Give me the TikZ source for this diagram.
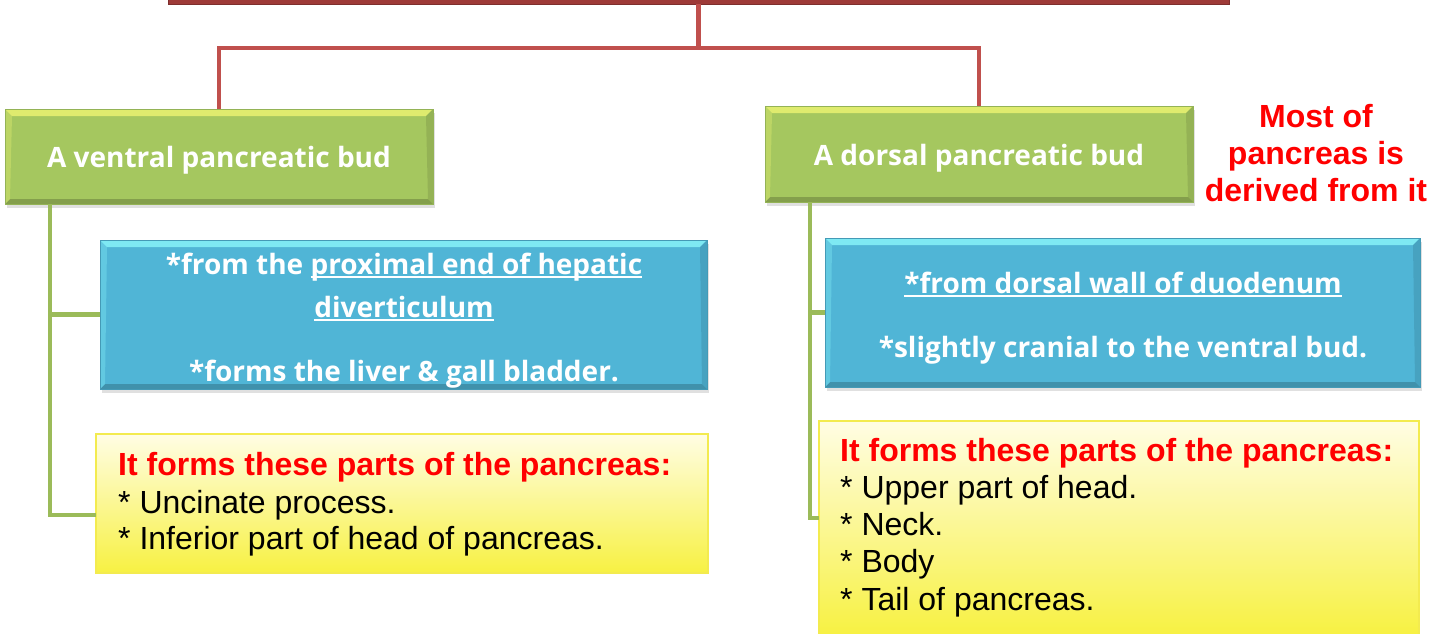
\documentclass[tikz,border=0pt]{standalone}
\usepackage{fontspec}
\setmainfont{Liberation Sans}
\newfontfamily\boxfont{Open Sans}
\usetikzlibrary{shadows,calc}
\definecolor{topred}{HTML}{9E3A38}
\definecolor{linkred}{HTML}{C0504D}
\definecolor{budgreen}{HTML}{A5C75F}
\definecolor{linkgreen}{HTML}{9BBB59}
\definecolor{aqua}{HTML}{50B5D6}
\definecolor{yeltop}{HTML}{FFFDE4}
\definecolor{yelbot}{HTML}{F7F142}
\definecolor{yelborder}{HTML}{F3EB4F}
\definecolor{txtred}{HTML}{FF0000}
\newcommand\ulx[1]{\leavevmode\setbox0\hbox{#1}\rlap{\rule[-3.5pt]{\wd0}{1.8pt}}\box0}
\tikzset{
  bevel/.style 2 args={path picture={
    \coordinate (pnw) at (path picture bounding box.north west);
    \coordinate (pse) at (path picture bounding box.south east);
    \coordinate (pne) at (path picture bounding box.north east);
    \coordinate (psw) at (path picture bounding box.south west);
    \fill[#1] (pnw) -- (pne) -- ($(pne)+(-7pt,-7pt)$) -- ($(pnw)+(7pt,-7pt)$) -- cycle;
    \fill[#2] (psw) -- (pse) -- ($(pse)+(-5pt,5pt)$) -- ($(psw)+(5pt,5pt)$) -- cycle;
    \fill[#2,opacity=0.5] (pne) -- (pse) -- ($(pse)+(-5pt,5pt)$) -- ($(pne)+(-7pt,-7pt)$) -- cycle;
    \fill[#1,opacity=0.4] (pnw) -- (psw) -- ($(psw)+(5pt,5pt)$) -- ($(pnw)+(7pt,-7pt)$) -- cycle;
  }},
  boxbase/.style={rectangle, inner sep=0pt, outer sep=0pt},
  shadowed/.style={drop shadow={shadow xshift=2pt, shadow yshift=-4pt, opacity=0.2, fill=black!60}},
  topbox/.style={boxbase, fill=topred, draw=topred!80!black, line width=1pt},
  budbox/.style={boxbase, fill=budgreen, draw=budgreen!90!black, line width=0.6pt, shadowed, bevel={budgreen!50!yellow!70!white}{budgreen!80!black}},
  bluebox/.style={boxbase, fill=aqua, draw=aqua!85!black, line width=0.6pt, shadowed, bevel={aqua!50!cyan!60!white}{aqua!80!black}},
  yelbox/.style={boxbase, top color=yeltop, bottom color=yelbot, draw=yelborder, line width=1.5pt},
  redlink/.style={draw=linkred, line width=4.5pt},
  greenlink/.style={draw=linkgreen, line width=4.5pt},
  budtext/.style={inner sep=0pt, text=white, font=\boxfont\bfseries\fontsize{28}{32}\selectfont},
  redhead/.style={inner sep=0pt, text=txtred, font=\bfseries\fontsize{32}{37}\selectfont},
  blacktext/.style={inner sep=0pt, text=black, font=\fontsize{32}{37}\selectfont},
}
\begin{document}
\begin{tikzpicture}[x=1pt,y=-1pt]
\useasboundingbox (0,0) rectangle (1445,633);
% boxes
\node[topbox, minimum width=1061pt, minimum height=44pt] (top) at (698.5,-18) {};
\node[budbox, minimum width=428pt, minimum height=95pt] (vbud) at (219,156.5) {};
\node[budbox, minimum width=428pt, minimum height=96pt] (dbud) at (979,154) {};
\node[bluebox, minimum width=607pt, minimum height=149pt] (vblue) at (403.5,314.5) {};
\node[bluebox, minimum width=595pt, minimum height=149pt] (dblue) at (1122.5,312.5) {};
\node[yelbox, minimum width=612pt, minimum height=139pt] (vyel) at (402,503.5) {};
\node[yelbox, minimum width=600pt, minimum height=214pt] (dyel) at (1119,528) {};
% connectors
\draw[redlink] (top.south) -- ++(0,44) coordinate (rj) -| (vbud.north);
\draw[redlink] (rj) -| (dbud.north);
\draw[greenlink] ($(vbud.south west)+(45,0)$) coordinate (vg) |- (vblue.west);
\draw[greenlink] (vg) |- ($(vyel.west)+(0,11.5)$);
\draw[greenlink] ($(dbud.south west)+(45,0)$) coordinate (dg) |- (dblue.west);
\draw[greenlink] (dg) |- ($(dyel.west)+(0,-10)$);
% texts
\node[budtext, anchor=base] (vbudt) at (219,167) {A ventral pancreatic bud};
\node[budtext, anchor=base] (dbudt) at (979,165) {A dorsal pancreatic bud};
\node[redhead, anchor=base] (most1) at (1316,127) {Most of};
\node[redhead, anchor=base] (most2) at (1316,164) {pancreas is};
\node[redhead, anchor=base] (most3) at (1316,201) {derived from it};
\node[budtext, anchor=base] (vbl1) at (404,274) {*from the \ulx{proximal end of hepatic}};
\node[budtext, anchor=base] (vbl2) at (404,317) {\ulx{diverticulum}};
\node[budtext, anchor=base] (vbl3) at (404,381) {*forms the liver \& gall bladder.};
\node[budtext, anchor=base] (dbl1) at (1123,293) {\ulx{*from dorsal wall of duodenum}};
\node[budtext, anchor=base] (dbl2) at (1123,357) {*slightly cranial to the ventral bud.};
\node[redhead, anchor=base west] (vy1) at (118,475) {It forms these parts of the pancreas:};
\node[blacktext, anchor=base west] (vy2) at (118,513) {* Uncinate process.};
\node[blacktext, anchor=base west] (vy3) at (118,549) {* Inferior part of head of pancreas.};
\node[redhead, anchor=base west] (dy1) at (840,461) {It forms these parts of the pancreas:};
\node[blacktext, anchor=base west] (dy2) at (840,498) {* Upper part of head.};
\node[blacktext, anchor=base west] (dy3) at (840,535) {* Neck.};
\node[blacktext, anchor=base west] (dy4) at (840,572) {* Body};
\node[blacktext, anchor=base west] (dy5) at (840,610) {* Tail of pancreas.};
\end{tikzpicture}
\end{document}
